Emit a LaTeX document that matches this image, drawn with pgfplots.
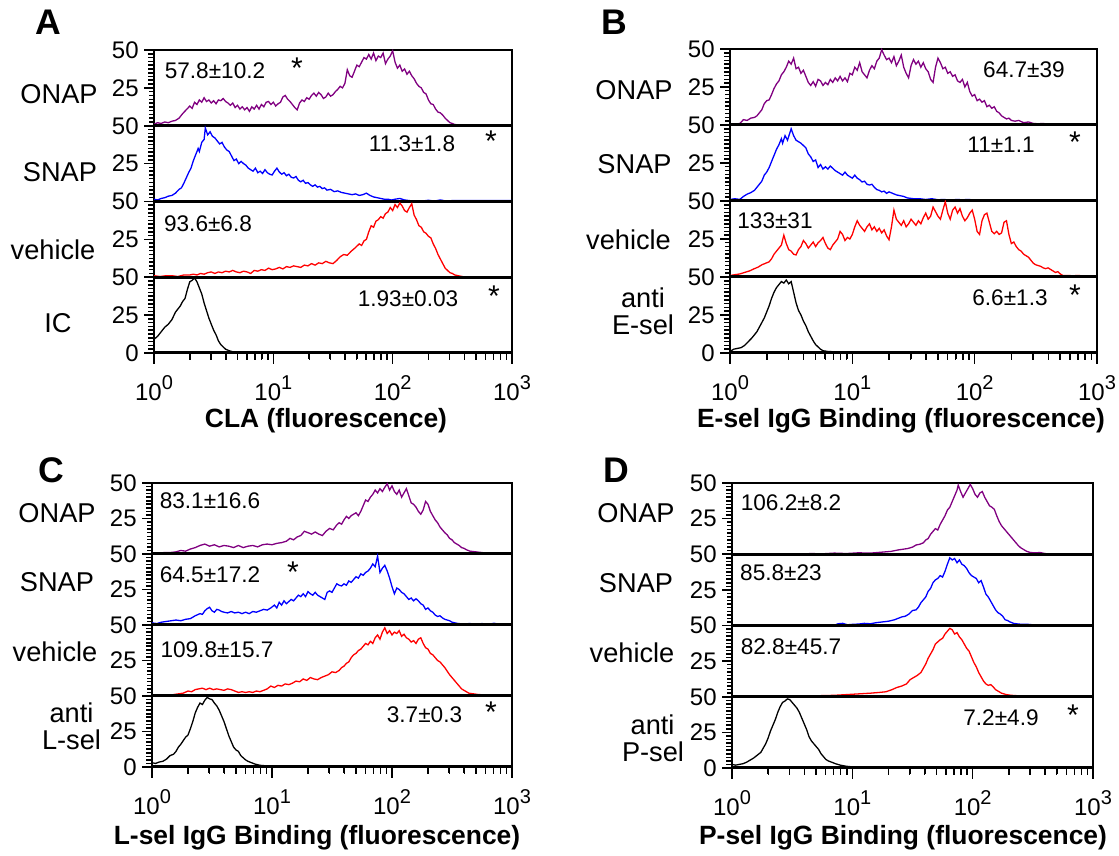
\documentclass[border=0pt]{standalone}
\usepackage{pgfplots}
\pgfplotsset{compat=1.18}
\usepackage{fontspec}
\setmainfont{Liberation Sans}
\definecolor{cpur}{RGB}{128,0,128}
\definecolor{cblu}{RGB}{0,0,255}
\definecolor{cred}{RGB}{255,0,0}
\newcommand{\fRow}{\fontsize{13.6}{14}\selectfont}
\newcommand{\fAnn}{\fontsize{11.3}{12}\selectfont}
\newcommand{\fStar}{\fontsize{15}{15}\selectfont}
\newcommand{\fTitle}{\fontsize{13.2}{14}\selectfont\bfseries}
\newcommand{\fPanel}{\fontsize{17.8}{18}\selectfont\bfseries}
\newcommand{\sx}[1]{\raisebox{5.5pt}{\fontsize{10}{10}\selectfont #1}}
% frame decorations: thick lower edge and outward tick combs
\newcommand{\yticksdraw}{%
 \draw[line width=1.5pt] (rel axis cs:0,0)--(rel axis cs:1,0);
 \foreach \v in {0,0.05,0.1,0.15,0.2,0.25,0.3,0.35,0.4,0.45,0.5,0.55,0.6,0.65,0.7,0.75,0.8,0.85,0.9,0.95,1}{\draw[line width=0.7pt] (rel axis cs:0,\v) -- ++(-2.6pt,0);}
 \foreach \v in {0,0.5,1}{\draw[line width=0.75pt] (rel axis cs:0,\v) -- ++(-4.6pt,0);}}
\newcommand{\xticksdraw}{%
 \foreach \r in {0.1003,0.1590,0.2007,0.2330,0.2594,0.2817,0.3010,0.3181,0.4337,0.4924,0.5340,0.5663,0.5927,0.6150,0.6344,0.6514,0.7670,0.8257,0.8674,0.8996,0.9260,0.9484,0.9677,0.9847}{\draw[line width=0.7pt] (rel axis cs:\r,0) -- ++(0,-3.6pt);}
 \foreach \r in {0,0.33333,0.66667,1}{\draw[line width=0.75pt] (rel axis cs:\r,0) -- ++(0,-5.5pt);}}

\begin{document}
\begin{tikzpicture}
\useasboundingbox (0,0) rectangle (559.5pt,428pt);

% ================= Panel A =================
\begin{axis}[at={(77pt,365.125pt)}, anchor=south west, width=179pt, height=37.875pt,
 scale only axis, xmode=log, xmin=1, xmax=1000, ymin=0, ymax=50,
 axis line style={line width=0.75pt}, tick align=outside, ytick pos=left, xtick pos=left,
 major tick length=5pt, minor tick length=2.8pt, minor y tick num=9,
 every tick/.style={black, line width=0.8pt},
 yticklabel style={font=\fontsize{12}{12}\selectfont, inner sep=0pt, xshift=-2.5pt},
 after end axis/.code={\yticksdraw},
 ytick={25,50}, yticklabels={25,50}, xtick=\empty]
\addplot[cpur, line width=0.65pt] table[row sep=\\, x expr={10^(\thisrow{a})}, y=b]{a b\\0 1\\0.03 2\\0.06 1.5\\0.09 2.5\\0.12 2\\0.15 3\\0.18 3.5\\0.21 5\\0.24 8\\0.27 10.5\\0.3 13\\0.32 11.5\\0.34 15.5\\0.36 14\\0.38 17\\0.4 15.5\\0.42 18.5\\0.44 16\\0.46 17\\0.48 15\\0.5 16.5\\0.52 14.5\\0.54 17\\0.56 16.5\\0.58 18\\0.6 16\\0.62 15\\0.64 13.5\\0.66 15\\0.68 12\\0.7 13.5\\0.72 11\\0.74 12.5\\0.76 10.5\\0.78 12\\0.8 9.5\\0.82 12.5\\0.84 11\\0.86 13.5\\0.88 11\\0.9 14\\0.92 12.5\\0.94 15.5\\0.96 16\\0.98 14\\1.0 15.5\\1.02 13\\1.04 14.5\\1.06 15.5\\1.08 19\\1.1 20\\1.12 17.5\\1.14 16\\1.16 14\\1.18 12\\1.2 10.5\\1.22 15\\1.24 17\\1.26 16\\1.28 18.5\\1.3 17.5\\1.32 20\\1.34 21.5\\1.36 19.5\\1.38 22\\1.4 20.5\\1.42 18\\1.44 19\\1.46 21.5\\1.48 19.5\\1.5 20.5\\1.52 22.5\\1.54 24\\1.56 26\\1.58 25\\1.6 28\\1.62 37\\1.64 33\\1.66 32\\1.68 36\\1.7 40\\1.72 39\\1.74 42\\1.76 45\\1.78 44\\1.8 47\\1.82 44\\1.84 48\\1.86 43\\1.88 46\\1.9 45\\1.92 48\\1.94 41\\1.96 44\\1.98 46\\2.0 49.5\\2.02 42\\2.04 38\\2.06 40\\2.08 36\\2.1 37.5\\2.12 34\\2.14 36\\2.16 33\\2.18 31\\2.2 28\\2.22 26\\2.24 25\\2.26 22\\2.28 21\\2.3 17\\2.32 14.5\\2.34 14\\2.36 11\\2.38 9\\2.4 8.5\\2.42 7\\2.44 5\\2.46 3.5\\2.48 2\\2.5 1.5\\2.52 0.8\\2.56 0.5\\2.6 0.3\\2.64 0\\};
\end{axis}
\begin{axis}[at={(77pt,327.25pt)}, anchor=south west, width=179pt, height=37.875pt,
 scale only axis, xmode=log, xmin=1, xmax=1000, ymin=0, ymax=50,
 axis line style={line width=0.75pt}, tick align=outside, ytick pos=left, xtick pos=left,
 major tick length=5pt, minor tick length=2.8pt, minor y tick num=9,
 every tick/.style={black, line width=0.8pt},
 yticklabel style={font=\fontsize{12}{12}\selectfont, inner sep=0pt, xshift=-2.5pt},
 after end axis/.code={\yticksdraw},
 ytick={25,50}, yticklabels={25,50}, xtick=\empty]
\addplot[cblu, line width=0.65pt] table[row sep=\\, x expr={10^(\thisrow{a})}, y=b]{a b\\0 1.5\\0.03 1\\0.06 2\\0.09 2.5\\0.12 3.5\\0.15 4\\0.18 5.5\\0.21 8\\0.23 9\\0.25 12\\0.27 15.5\\0.29 19\\0.31 22\\0.33 27\\0.35 31\\0.37 35\\0.38 33\\0.4 39\\0.42 41\\0.43 48.5\\0.45 44\\0.47 46\\0.49 43\\0.51 42\\0.53 40\\0.55 38\\0.57 39\\0.59 36\\0.61 34\\0.63 33\\0.65 30\\0.67 27\\0.69 28\\0.71 25\\0.73 26.5\\0.75 25\\0.77 24\\0.79 22\\0.81 21\\0.83 20\\0.85 22\\0.87 19\\0.89 20\\0.91 18.5\\0.93 21\\0.95 19\\0.97 18\\0.99 17.5\\1.01 20\\1.03 22\\1.05 19.5\\1.07 18\\1.09 19\\1.11 17\\1.13 18\\1.15 16\\1.17 15.5\\1.19 16.5\\1.21 14\\1.23 13\\1.25 14\\1.27 12\\1.29 12.5\\1.31 11\\1.33 10\\1.35 11\\1.37 9.5\\1.39 10\\1.41 8.5\\1.43 9\\1.45 7.5\\1.48 8\\1.51 6.5\\1.54 7\\1.57 6\\1.6 5.5\\1.63 5\\1.66 4.5\\1.69 5\\1.72 4\\1.75 4.5\\1.78 5.5\\1.81 4\\1.84 3\\1.87 2.5\\1.9 2\\1.93 1.5\\1.96 1.5\\1.99 1\\2.02 1.5\\2.06 2\\2.1 1\\2.15 0.5\\2.2 0.5\\2.25 0.3\\2.3 0.8\\2.35 0.3\\2.4 1\\2.45 0.3\\2.5 0.6\\3 0.6\\};
\end{axis}
\begin{axis}[at={(77pt,289.375pt)}, anchor=south west, width=179pt, height=37.875pt,
 scale only axis, xmode=log, xmin=1, xmax=1000, ymin=0, ymax=50,
 axis line style={line width=0.75pt}, tick align=outside, ytick pos=left, xtick pos=left,
 major tick length=5pt, minor tick length=2.8pt, minor y tick num=9,
 every tick/.style={black, line width=0.8pt},
 yticklabel style={font=\fontsize{12}{12}\selectfont, inner sep=0pt, xshift=-2.5pt},
 after end axis/.code={\yticksdraw},
 ytick={25,50}, yticklabels={25,50}, xtick=\empty]
\addplot[cred, line width=0.65pt] table[row sep=\\, x expr={10^(\thisrow{a})}, y=b]{a b\\0 1\\0.05 0.5\\0.1 1\\0.15 1\\0.2 0.5\\0.25 1.5\\0.3 1.5\\0.33 2\\0.36 1.5\\0.39 2.5\\0.42 2\\0.45 3\\0.48 3.5\\0.51 2.5\\0.54 3.5\\0.57 3\\0.6 4\\0.63 3.5\\0.66 4.5\\0.69 3.5\\0.72 3\\0.75 4\\0.78 3.5\\0.81 2.5\\0.84 4.5\\0.87 4\\0.9 5\\0.93 4.5\\0.96 6\\0.99 5\\1.02 5.5\\1.05 6.5\\1.08 5.5\\1.11 7\\1.14 6.5\\1.17 7.5\\1.2 7\\1.23 6.5\\1.26 8\\1.29 7.5\\1.32 9\\1.35 8\\1.38 9.5\\1.41 9\\1.44 10.5\\1.47 9.5\\1.5 9\\1.53 11\\1.56 13.5\\1.59 15\\1.62 14.5\\1.65 17\\1.68 19\\1.7 20.5\\1.72 22\\1.74 21\\1.76 24\\1.78 25\\1.8 30\\1.82 34\\1.84 33\\1.86 37\\1.88 38\\1.9 40\\1.92 39\\1.94 42\\1.96 43\\1.98 46\\2.0 44\\2.02 48\\2.04 46\\2.06 49\\2.08 47\\2.1 44\\2.12 43\\2.14 46\\2.16 48.5\\2.18 41\\2.2 38\\2.22 34\\2.24 33\\2.26 30\\2.28 29\\2.3 27\\2.32 26\\2.34 22\\2.36 19\\2.38 15\\2.4 12\\2.42 9\\2.44 6\\2.46 4.5\\2.48 3\\2.5 2.5\\2.52 1.5\\2.55 1\\2.58 0.5\\2.62 0\\};
\end{axis}
\begin{axis}[at={(77pt,251.5pt)}, anchor=south west, width=179pt, height=37.875pt,
 scale only axis, xmode=log, xmin=1, xmax=1000, ymin=0, ymax=50,
 axis line style={line width=0.75pt}, tick align=outside, ytick pos=left, xtick pos=left,
 major tick length=5pt, minor tick length=2.8pt, minor y tick num=9,
 every tick/.style={black, line width=0.8pt},
 yticklabel style={font=\fontsize{12}{12}\selectfont, inner sep=0pt, xshift=-2.5pt},
 after end axis/.code={\yticksdraw\xticksdraw},
 ytick={0,25,50}, yticklabels={0,25,50}, xtick={1,10,100,1000},
 minor xtick={2,3,4,5,6,7,8,9,20,30,40,50,60,70,80,90,200,300,400,500,600,700,800,900},
 xticklabels={10\sx{0},10\sx{1},10\sx{2},10\sx{3}},
 xticklabel style={font=\fontsize{12}{12}\selectfont, inner sep=0pt, yshift=-6pt}]
\addplot[black, line width=0.65pt] table[row sep=\\, x expr={10^(\thisrow{a})}, y=b]{a b\\0 9\\0.03 11\\0.06 14\\0.09 17\\0.12 19\\0.15 22\\0.18 27\\0.2 29\\0.22 31\\0.24 34\\0.26 36\\0.28 42\\0.3 47\\0.32 48\\0.34 49.5\\0.36 47\\0.38 43\\0.4 39\\0.42 33\\0.44 28\\0.46 23\\0.48 19\\0.5 15\\0.52 12\\0.54 8\\0.56 5.5\\0.58 4\\0.6 2.5\\0.63 1.5\\0.66 0.8\\0.7 0.3\\0.75 0.2\\0.8 0\\};
\end{axis}

% ================= Panel B =================
\begin{axis}[at={(365pt,365.5pt)}, anchor=south west, width=183.5pt, height=38pt,
 scale only axis, xmode=log, xmin=1, xmax=1000, ymin=0, ymax=50,
 axis line style={line width=0.75pt}, tick align=outside, ytick pos=left, xtick pos=left,
 major tick length=5pt, minor tick length=2.8pt, minor y tick num=9,
 every tick/.style={black, line width=0.8pt},
 yticklabel style={font=\fontsize{12}{12}\selectfont, inner sep=0pt, xshift=-2.5pt},
 after end axis/.code={\yticksdraw},
 ytick={25,50}, yticklabels={25,50}, xtick=\empty]
\addplot[cpur, line width=0.65pt] table[row sep=\\, x expr={10^(\thisrow{a})}, y=b]{a b\\0 0.5\\0.04 0.5\\0.08 1\\0.11 3.5\\0.14 3\\0.17 4.5\\0.2 5\\0.22 6\\0.24 8\\0.26 10\\0.28 14\\0.3 16\\0.32 16.5\\0.34 20\\0.36 24\\0.38 27\\0.4 29\\0.42 33\\0.44 35\\0.46 38\\0.48 42\\0.5 40\\0.52 44\\0.54 37\\0.56 38\\0.58 34\\0.6 36\\0.62 32\\0.64 28\\0.66 26\\0.68 28.5\\0.7 25.5\\0.72 30\\0.74 29\\0.76 26\\0.78 28\\0.8 26.5\\0.82 30\\0.84 28\\0.86 31\\0.88 29\\0.9 32\\0.92 29\\0.94 31\\0.96 28.5\\0.98 34\\1.0 33\\1.02 38\\1.04 36\\1.06 41\\1.08 35\\1.1 33\\1.12 31\\1.14 36\\1.16 39\\1.18 37\\1.2 42\\1.22 44\\1.24 49.5\\1.26 46\\1.28 43\\1.3 44\\1.32 41\\1.34 45\\1.36 39\\1.38 42\\1.4 46\\1.42 38\\1.44 34\\1.46 31\\1.48 39\\1.5 43\\1.52 40\\1.54 42\\1.56 38\\1.58 41\\1.6 37\\1.62 35\\1.64 30\\1.66 28\\1.68 38\\1.7 44\\1.72 41\\1.74 37\\1.76 38\\1.78 34\\1.8 35\\1.82 32\\1.84 33\\1.86 29\\1.88 28\\1.9 30\\1.92 25\\1.94 28\\1.96 22\\1.98 19\\2.0 20\\2.02 16\\2.04 17\\2.06 15\\2.08 16\\2.1 12\\2.12 13\\2.14 11\\2.16 12\\2.18 9\\2.2 8\\2.22 6\\2.24 5\\2.26 4\\2.28 4.5\\2.3 3\\2.33 2.5\\2.36 3\\2.4 1.5\\2.44 2\\2.48 1\\2.52 0.8\\2.56 1\\2.6 0.5\\2.65 0.3\\2.7 0.3\\2.75 0.5\\2.8 0\\};
\end{axis}
\begin{axis}[at={(365pt,327.5pt)}, anchor=south west, width=183.5pt, height=38pt,
 scale only axis, xmode=log, xmin=1, xmax=1000, ymin=0, ymax=50,
 axis line style={line width=0.75pt}, tick align=outside, ytick pos=left, xtick pos=left,
 major tick length=5pt, minor tick length=2.8pt, minor y tick num=9,
 every tick/.style={black, line width=0.8pt},
 yticklabel style={font=\fontsize{12}{12}\selectfont, inner sep=0pt, xshift=-2.5pt},
 after end axis/.code={\yticksdraw},
 ytick={25,50}, yticklabels={25,50}, xtick=\empty]
\addplot[cblu, line width=0.65pt] table[row sep=\\, x expr={10^(\thisrow{a})}, y=b]{a b\\0 1\\0.04 1.5\\0.08 1\\0.11 3\\0.14 4.5\\0.17 5.5\\0.2 7\\0.22 9\\0.24 11\\0.26 13\\0.28 17\\0.3 19\\0.32 22\\0.34 26\\0.36 30\\0.38 34\\0.4 37\\0.42 41\\0.43 38\\0.45 43\\0.47 40\\0.49 45\\0.5 47.5\\0.52 43\\0.54 40\\0.56 39\\0.58 38\\0.6 36.5\\0.62 35\\0.64 31\\0.66 29\\0.68 26\\0.7 27\\0.72 22\\0.74 24\\0.76 21\\0.78 22.5\\0.8 21\\0.82 23\\0.84 21.5\\0.86 20\\0.88 19\\0.9 18\\0.92 17\\0.94 19\\0.96 17\\0.98 16\\1.0 15\\1.02 17\\1.04 15\\1.06 14\\1.08 12.5\\1.1 13\\1.12 11\\1.14 10.5\\1.16 11\\1.18 9\\1.2 7.5\\1.22 7\\1.24 6\\1.26 6.5\\1.28 5\\1.3 6\\1.33 5\\1.36 4\\1.39 3.5\\1.42 3\\1.45 2\\1.5 1.5\\1.55 1.5\\1.6 1\\1.65 1.5\\1.7 0.8\\1.75 1\\1.8 0.5\\1.85 1\\1.9 0.8\\1.95 1\\2.0 0.6\\3 0.6\\};
\end{axis}
\begin{axis}[at={(365pt,289.5pt)}, anchor=south west, width=183.5pt, height=38pt,
 scale only axis, xmode=log, xmin=1, xmax=1000, ymin=0, ymax=50,
 axis line style={line width=0.75pt}, tick align=outside, ytick pos=left, xtick pos=left,
 major tick length=5pt, minor tick length=2.8pt, minor y tick num=9,
 every tick/.style={black, line width=0.8pt},
 yticklabel style={font=\fontsize{12}{12}\selectfont, inner sep=0pt, xshift=-2.5pt},
 after end axis/.code={\yticksdraw},
 ytick={25,50}, yticklabels={25,50}, xtick=\empty]
\addplot[cred, line width=0.65pt] table[row sep=\\, x expr={10^(\thisrow{a})}, y=b]{a b\\0 1\\0.04 1.5\\0.08 2\\0.12 3\\0.16 4\\0.2 5.5\\0.23 6.5\\0.26 8\\0.29 9\\0.32 10\\0.34 12\\0.36 15\\0.38 17\\0.4 19\\0.42 21\\0.44 27.5\\0.46 22\\0.48 18\\0.5 17\\0.52 15\\0.54 14.5\\0.56 18\\0.58 20\\0.6 24\\0.62 22\\0.64 19\\0.66 21\\0.68 23\\0.7 20\\0.72 22.5\\0.74 24\\0.76 26\\0.78 22\\0.8 19\\0.82 18\\0.84 21\\0.86 23\\0.88 25\\0.9 30\\0.92 28\\0.94 24\\0.96 26\\0.98 25\\1.0 28\\1.02 33\\1.04 37\\1.06 34\\1.08 32\\1.1 30\\1.12 33\\1.14 35\\1.16 31\\1.18 33\\1.2 30\\1.22 32\\1.24 29\\1.26 31\\1.28 27\\1.3 24.5\\1.32 33\\1.34 44\\1.36 38\\1.38 36\\1.4 34\\1.42 37\\1.44 33\\1.46 35\\1.48 38\\1.5 36\\1.52 34\\1.54 37\\1.56 35\\1.58 39\\1.6 42\\1.62 38\\1.64 40\\1.66 46\\1.68 43\\1.7 40\\1.72 38\\1.74 44\\1.76 49.5\\1.78 42\\1.8 38\\1.82 44\\1.84 46\\1.86 42\\1.88 45\\1.9 40\\1.92 37\\1.94 39\\1.96 42\\1.98 44\\2.0 38\\2.02 30\\2.04 28\\2.06 37\\2.08 41\\2.1 42\\2.12 36\\2.14 30\\2.16 28.5\\2.18 30\\2.2 28\\2.22 29\\2.24 36\\2.26 37\\2.28 28\\2.3 22\\2.32 23\\2.34 20\\2.36 18\\2.38 17\\2.4 15\\2.42 14\\2.44 13\\2.46 11\\2.48 9\\2.5 8\\2.52 7.5\\2.54 7\\2.56 6\\2.58 5.5\\2.6 6\\2.62 5\\2.64 4\\2.66 3\\2.68 3.5\\2.7 2\\2.72 1\\2.76 1\\2.8 0.8\\2.85 1\\2.9 0.5\\2.95 0\\};
\end{axis}
\begin{axis}[at={(365pt,251.5pt)}, anchor=south west, width=183.5pt, height=38pt,
 scale only axis, xmode=log, xmin=1, xmax=1000, ymin=0, ymax=50,
 axis line style={line width=0.75pt}, tick align=outside, ytick pos=left, xtick pos=left,
 major tick length=5pt, minor tick length=2.8pt, minor y tick num=9,
 every tick/.style={black, line width=0.8pt},
 yticklabel style={font=\fontsize{12}{12}\selectfont, inner sep=0pt, xshift=-2.5pt},
 after end axis/.code={\yticksdraw\xticksdraw},
 ytick={0,25,50}, yticklabels={0,25,50}, xtick={1,10,100,1000},
 minor xtick={2,3,4,5,6,7,8,9,20,30,40,50,60,70,80,90,200,300,400,500,600,700,800,900},
 xticklabels={10\sx{0},10\sx{1},10\sx{2},10\sx{3}},
 xticklabel style={font=\fontsize{12}{12}\selectfont, inner sep=0pt, yshift=-6pt}]
\addplot[black, line width=0.65pt] table[row sep=\\, x expr={10^(\thisrow{a})}, y=b]{a b\\0 1\\0.03 2.5\\0.06 3\\0.09 3.5\\0.12 5\\0.15 7.5\\0.18 10\\0.2 12\\0.22 14\\0.24 17\\0.26 20\\0.28 23\\0.3 27\\0.32 31\\0.34 36\\0.36 40\\0.38 43\\0.4 45\\0.42 47\\0.44 46\\0.46 48\\0.48 45.5\\0.5 47\\0.52 40\\0.54 33\\0.56 28\\0.58 25\\0.6 21\\0.62 18\\0.64 14\\0.66 11\\0.68 8\\0.7 5.5\\0.72 4\\0.74 2.5\\0.76 1.5\\0.8 1\\0.85 0.8\\0.9 0.5\\0.95 0.8\\1.0 0.3\\1.05 0.3\\1.1 0\\};
\end{axis}

% ================= Panel C =================
\begin{axis}[at={(76pt,151pt)}, anchor=south west, width=180pt, height=35.5pt,
 scale only axis, xmode=log, xmin=1, xmax=1000, ymin=0, ymax=50,
 axis line style={line width=0.75pt}, tick align=outside, ytick pos=left, xtick pos=left,
 major tick length=5pt, minor tick length=2.8pt, minor y tick num=9,
 every tick/.style={black, line width=0.8pt},
 yticklabel style={font=\fontsize{12}{12}\selectfont, inner sep=0pt, xshift=-2.5pt},
 after end axis/.code={\yticksdraw},
 ytick={25,50}, yticklabels={25,50}, xtick=\empty]
\addplot[cpur, line width=0.65pt] table[row sep=\\, x expr={10^(\thisrow{a})}, y=b]{a b\\0 1\\0.05 0.5\\0.1 1\\0.15 1\\0.2 1.5\\0.24 2.5\\0.28 2\\0.32 3.5\\0.36 4.5\\0.4 6\\0.44 7\\0.48 5.5\\0.52 6.5\\0.56 5\\0.6 6\\0.64 5.5\\0.68 4.5\\0.72 6\\0.76 4.5\\0.8 5.5\\0.84 6\\0.88 5\\0.92 6.5\\0.96 7\\1.0 6.5\\1.04 7.5\\1.08 8\\1.12 9\\1.15 11\\1.18 10\\1.21 12\\1.24 13\\1.27 16\\1.3 15\\1.33 14\\1.36 15.5\\1.39 14\\1.42 13\\1.45 16\\1.48 18\\1.51 17\\1.54 20.5\\1.56 22\\1.58 21\\1.6 24\\1.62 26.5\\1.64 25\\1.66 27\\1.68 28\\1.7 29\\1.72 27\\1.74 30\\1.76 34\\1.78 38\\1.8 37\\1.82 40\\1.84 42\\1.86 45\\1.88 43\\1.9 46\\1.92 44\\1.94 47\\1.96 49.5\\1.98 45\\2.0 48\\2.02 44\\2.04 42\\2.06 45\\2.08 40\\2.1 43\\2.12 46\\2.14 41\\2.16 36\\2.18 35\\2.2 33\\2.22 30\\2.24 28\\2.26 31\\2.28 37\\2.3 35\\2.32 30\\2.34 27\\2.36 24\\2.38 22\\2.4 19\\2.42 17\\2.44 15\\2.46 13.5\\2.48 11\\2.5 10\\2.52 8\\2.54 7\\2.56 6\\2.58 4.5\\2.6 4\\2.62 3\\2.65 2\\2.7 1.5\\2.75 1\\2.8 0.5\\2.85 0.3\\2.9 0\\};
\end{axis}
\begin{axis}[at={(76pt,115.5pt)}, anchor=south west, width=180pt, height=35.5pt,
 scale only axis, xmode=log, xmin=1, xmax=1000, ymin=0, ymax=50,
 axis line style={line width=0.75pt}, tick align=outside, ytick pos=left, xtick pos=left,
 major tick length=5pt, minor tick length=2.8pt, minor y tick num=9,
 every tick/.style={black, line width=0.8pt},
 yticklabel style={font=\fontsize{12}{12}\selectfont, inner sep=0pt, xshift=-2.5pt},
 after end axis/.code={\yticksdraw},
 ytick={25,50}, yticklabels={25,50}, xtick=\empty]
\addplot[cblu, line width=0.65pt] table[row sep=\\, x expr={10^(\thisrow{a})}, y=b]{a b\\0 1.5\\0.04 1\\0.08 2\\0.12 2.5\\0.16 3\\0.2 3.5\\0.24 3\\0.28 4\\0.32 4.5\\0.36 6.5\\0.4 8\\0.42 7.5\\0.44 10\\0.46 11.5\\0.48 12.5\\0.5 10\\0.52 9\\0.54 11\\0.56 10.5\\0.58 9.5\\0.6 9\\0.63 8.5\\0.66 9.5\\0.69 8.5\\0.72 9\\0.75 8\\0.78 9\\0.81 8\\0.84 9.5\\0.87 9\\0.9 10\\0.93 11\\0.96 10.5\\0.99 12\\1.02 14\\1.04 12\\1.06 16\\1.08 14\\1.1 17\\1.12 15\\1.14 16.5\\1.16 18\\1.18 17\\1.2 19\\1.22 21\\1.24 20\\1.26 22\\1.28 20\\1.3 23.5\\1.32 22\\1.34 21\\1.36 23\\1.38 21\\1.4 20\\1.42 19\\1.44 18\\1.46 23\\1.48 24\\1.5 23\\1.52 26\\1.54 29\\1.56 28\\1.58 27.5\\1.6 29\\1.62 28\\1.64 31\\1.66 30\\1.68 32\\1.7 34\\1.72 33\\1.74 36\\1.76 35\\1.78 37\\1.8 38\\1.82 40\\1.84 43\\1.86 41\\1.88 48.5\\1.9 37\\1.92 40\\1.94 42\\1.96 38\\1.98 33\\2.0 27\\2.02 22\\2.04 26\\2.06 25\\2.08 23\\2.1 22\\2.12 20\\2.14 18\\2.16 19\\2.18 17\\2.2 18.5\\2.22 17\\2.24 15\\2.26 14\\2.28 11\\2.3 12\\2.32 10\\2.34 9\\2.36 7\\2.38 6\\2.4 6.5\\2.42 5\\2.44 4\\2.46 3.5\\2.48 3\\2.5 2\\2.55 1\\2.6 0.8\\2.65 1\\2.7 0.5\\2.75 1\\2.8 0.5\\2.85 1.2\\2.9 0.5\\2.95 0.5\\3 0.5\\};
\end{axis}
\begin{axis}[at={(76pt,80pt)}, anchor=south west, width=180pt, height=35.5pt,
 scale only axis, xmode=log, xmin=1, xmax=1000, ymin=0, ymax=50,
 axis line style={line width=0.75pt}, tick align=outside, ytick pos=left, xtick pos=left,
 major tick length=5pt, minor tick length=2.8pt, minor y tick num=9,
 every tick/.style={black, line width=0.8pt},
 yticklabel style={font=\fontsize{12}{12}\selectfont, inner sep=0pt, xshift=-2.5pt},
 after end axis/.code={\yticksdraw},
 ytick={25,50}, yticklabels={25,50}, xtick=\empty]
\addplot[cred, line width=0.65pt] table[row sep=\\, x expr={10^(\thisrow{a})}, y=b]{a b\\0.15 0\\0.18 1\\0.22 1.5\\0.26 2\\0.3 3.5\\0.33 3\\0.36 4.5\\0.39 5\\0.42 5.5\\0.45 4.5\\0.48 5.5\\0.51 4.5\\0.54 5\\0.57 4.5\\0.6 4\\0.63 5\\0.66 4.5\\0.69 3.5\\0.72 2.5\\0.75 3\\0.78 2.5\\0.81 3\\0.84 2.5\\0.87 3.5\\0.9 3\\0.93 4\\0.96 5\\0.99 7\\1.02 6\\1.05 7.5\\1.08 7\\1.11 8.5\\1.14 8\\1.17 9\\1.2 10.5\\1.23 10\\1.26 12\\1.29 11\\1.32 13\\1.35 12\\1.38 11.5\\1.41 13\\1.44 14\\1.47 15\\1.5 17\\1.53 16.5\\1.56 18\\1.58 20\\1.6 21\\1.62 23\\1.64 24\\1.66 27\\1.68 29\\1.7 30\\1.72 32\\1.74 33\\1.76 35\\1.78 37\\1.8 36\\1.82 38.5\\1.84 37\\1.86 41\\1.88 43\\1.9 40\\1.92 45\\1.94 48\\1.96 44\\1.98 46\\2.0 43\\2.02 45\\2.04 44\\2.06 46\\2.08 42\\2.1 43.5\\2.12 41\\2.14 40\\2.16 38\\2.18 39\\2.2 37\\2.22 40\\2.24 41\\2.26 37\\2.28 34\\2.3 33\\2.32 30\\2.34 29\\2.36 27\\2.38 25\\2.4 24\\2.42 22\\2.44 20\\2.46 17.5\\2.48 15\\2.5 13\\2.52 11\\2.54 9\\2.56 7\\2.58 5\\2.6 4\\2.62 3\\2.64 2\\2.68 1.5\\2.72 1\\2.78 0.8\\2.84 0.5\\2.88 0\\};
\end{axis}
\begin{axis}[at={(76pt,44.5pt)}, anchor=south west, width=180pt, height=35.5pt,
 scale only axis, xmode=log, xmin=1, xmax=1000, ymin=0, ymax=50,
 axis line style={line width=0.75pt}, tick align=outside, ytick pos=left, xtick pos=left,
 major tick length=5pt, minor tick length=2.8pt, minor y tick num=9,
 every tick/.style={black, line width=0.8pt},
 yticklabel style={font=\fontsize{12}{12}\selectfont, inner sep=0pt, xshift=-2.5pt},
 after end axis/.code={\yticksdraw\xticksdraw},
 ytick={0,25,50}, yticklabels={0,25,50}, xtick={1,10,100,1000},
 minor xtick={2,3,4,5,6,7,8,9,20,30,40,50,60,70,80,90,200,300,400,500,600,700,800,900},
 xticklabels={10\sx{0},10\sx{1},10\sx{2},10\sx{3}},
 xticklabel style={font=\fontsize{12}{12}\selectfont, inner sep=0pt, yshift=-6pt}]
\addplot[black, line width=0.65pt] table[row sep=\\, x expr={10^(\thisrow{a})}, y=b]{a b\\0 3\\0.03 2.5\\0.06 3.5\\0.09 4\\0.12 5.5\\0.15 8\\0.18 9\\0.2 11\\0.22 14\\0.24 16\\0.26 18.5\\0.28 21\\0.3 22.5\\0.32 27\\0.34 32\\0.36 38\\0.38 42\\0.4 45\\0.42 44\\0.44 47\\0.46 49\\0.48 48\\0.5 47.5\\0.52 45\\0.54 43\\0.56 40\\0.58 36\\0.6 32\\0.62 27\\0.64 22\\0.66 18\\0.68 14\\0.7 12\\0.72 11\\0.74 8\\0.76 6.5\\0.78 5\\0.8 4\\0.83 3\\0.86 2\\0.9 1.2\\0.95 0.8\\1.0 0.5\\1.1 0.3\\1.2 0\\1.5 0.3\\1.6 0\\2.0 0.3\\2.1 0\\};
\end{axis}

% ================= Panel D =================
\begin{axis}[at={(366pt,150.875pt)}, anchor=south west, width=180.5pt, height=35.625pt,
 scale only axis, xmode=log, xmin=1, xmax=1000, ymin=0, ymax=50,
 axis line style={line width=0.75pt}, tick align=outside, ytick pos=left, xtick pos=left,
 major tick length=5pt, minor tick length=2.8pt, minor y tick num=9,
 every tick/.style={black, line width=0.8pt},
 yticklabel style={font=\fontsize{12}{12}\selectfont, inner sep=0pt, xshift=-2.5pt},
 after end axis/.code={\yticksdraw},
 ytick={25,50}, yticklabels={25,50}, xtick=\empty]
\addplot[cpur, line width=0.65pt] table[row sep=\\, x expr={10^(\thisrow{a})}, y=b]{a b\\0.6 0\\0.65 0.5\\0.75 0.3\\0.85 0.8\\0.95 0.5\\1.05 1\\1.15 0.8\\1.25 1.5\\1.32 2\\1.38 3\\1.42 3.5\\1.46 4\\1.5 5\\1.53 6.5\\1.56 7\\1.59 8\\1.61 10\\1.63 11\\1.65 14\\1.67 16\\1.69 18\\1.71 17\\1.73 21\\1.75 24\\1.77 27\\1.79 31\\1.81 33\\1.83 37\\1.85 41\\1.87 45\\1.88 48.5\\1.9 44\\1.92 40\\1.94 43\\1.96 46\\1.98 49\\2.0 46\\2.02 42\\2.04 40\\2.06 43\\2.08 44\\2.1 40\\2.12 37\\2.14 34\\2.16 33\\2.18 31.5\\2.2 27\\2.22 23\\2.24 20\\2.26 18\\2.28 16\\2.3 14\\2.32 12\\2.34 10\\2.36 8\\2.38 6\\2.4 4.5\\2.42 3.5\\2.45 2\\2.48 1.2\\2.52 1\\2.56 1.2\\2.6 0.5\\2.65 0\\};
\end{axis}
\begin{axis}[at={(366pt,115.25pt)}, anchor=south west, width=180.5pt, height=35.625pt,
 scale only axis, xmode=log, xmin=1, xmax=1000, ymin=0, ymax=50,
 axis line style={line width=0.75pt}, tick align=outside, ytick pos=left, xtick pos=left,
 major tick length=5pt, minor tick length=2.8pt, minor y tick num=9,
 every tick/.style={black, line width=0.8pt},
 yticklabel style={font=\fontsize{12}{12}\selectfont, inner sep=0pt, xshift=-2.5pt},
 after end axis/.code={\yticksdraw},
 ytick={25,50}, yticklabels={25,50}, xtick=\empty]
\addplot[cblu, line width=0.65pt] table[row sep=\\, x expr={10^(\thisrow{a})}, y=b]{a b\\0.85 0\\0.88 1.2\\0.92 1.5\\0.96 0.5\\1.0 0.8\\1.05 1\\1.1 1.5\\1.15 1.2\\1.2 2\\1.25 2.5\\1.3 3\\1.35 4\\1.38 5\\1.41 6\\1.44 6.5\\1.47 8\\1.5 10.5\\1.53 11\\1.55 13\\1.57 16\\1.59 18\\1.61 20\\1.63 24\\1.65 26\\1.67 30\\1.69 32\\1.71 33\\1.73 35\\1.75 34\\1.77 38\\1.79 43\\1.81 47.5\\1.83 46\\1.85 47\\1.87 44\\1.89 46\\1.91 43\\1.93 42\\1.95 40\\1.97 37\\1.99 35\\2.01 34\\2.03 33\\2.05 30\\2.07 31.5\\2.09 27\\2.11 22\\2.13 20\\2.15 17\\2.17 14\\2.19 11\\2.21 9\\2.23 8\\2.25 6.5\\2.27 4\\2.29 3.5\\2.31 2.5\\2.34 1.5\\2.38 1\\2.42 0.8\\2.46 0.8\\2.5 0.5\\2.55 0\\};
\end{axis}
\begin{axis}[at={(366pt,79.625pt)}, anchor=south west, width=180.5pt, height=35.625pt,
 scale only axis, xmode=log, xmin=1, xmax=1000, ymin=0, ymax=50,
 axis line style={line width=0.75pt}, tick align=outside, ytick pos=left, xtick pos=left,
 major tick length=5pt, minor tick length=2.8pt, minor y tick num=9,
 every tick/.style={black, line width=0.8pt},
 yticklabel style={font=\fontsize{12}{12}\selectfont, inner sep=0pt, xshift=-2.5pt},
 after end axis/.code={\yticksdraw},
 ytick={25,50}, yticklabels={25,50}, xtick=\empty]
\addplot[cred, line width=0.65pt] table[row sep=\\, x expr={10^(\thisrow{a})}, y=b]{a b\\0.5 0\\0.55 0.7\\0.65 0.5\\0.75 0.8\\0.85 1\\0.95 1.5\\1.05 2\\1.15 2.5\\1.22 3\\1.28 3.5\\1.33 5\\1.37 6.5\\1.41 7.5\\1.45 9\\1.48 12\\1.51 13.5\\1.54 15\\1.57 17\\1.59 20\\1.61 23\\1.63 27\\1.65 30\\1.67 33\\1.69 37\\1.71 38.5\\1.73 40\\1.75 41\\1.77 44\\1.79 46\\1.81 48\\1.83 47\\1.85 44\\1.87 45\\1.89 42\\1.91 40\\1.93 37\\1.95 34\\1.97 32\\1.99 28\\2.01 24\\2.03 21\\2.05 17\\2.07 14\\2.09 11\\2.11 9\\2.13 8\\2.15 8.5\\2.17 7\\2.19 5\\2.21 4\\2.24 2.5\\2.28 1.5\\2.32 1\\2.36 0.8\\2.42 0\\};
\end{axis}
\begin{axis}[at={(366pt,44pt)}, anchor=south west, width=180.5pt, height=35.625pt,
 scale only axis, xmode=log, xmin=1, xmax=1000, ymin=0, ymax=50,
 axis line style={line width=0.75pt}, tick align=outside, ytick pos=left, xtick pos=left,
 major tick length=5pt, minor tick length=2.8pt, minor y tick num=9,
 every tick/.style={black, line width=0.8pt},
 yticklabel style={font=\fontsize{12}{12}\selectfont, inner sep=0pt, xshift=-2.5pt},
 after end axis/.code={\yticksdraw\xticksdraw},
 ytick={0,25,50}, yticklabels={0,25,50}, xtick={1,10,100,1000},
 minor xtick={2,3,4,5,6,7,8,9,20,30,40,50,60,70,80,90,200,300,400,500,600,700,800,900},
 xticklabels={10\sx{0},10\sx{1},10\sx{2},10\sx{3}},
 xticklabel style={font=\fontsize{12}{12}\selectfont, inner sep=0pt, yshift=-6pt}]
\addplot[black, line width=0.65pt] table[row sep=\\, x expr={10^(\thisrow{a})}, y=b]{a b\\0 2.5\\0.03 2\\0.06 2.5\\0.09 3\\0.12 4\\0.15 5.5\\0.18 7\\0.21 9\\0.24 11\\0.26 14\\0.28 17\\0.3 21\\0.32 26\\0.34 30\\0.36 34\\0.38 39\\0.4 43\\0.42 46\\0.44 47\\0.46 48.5\\0.48 48\\0.5 46\\0.52 44\\0.54 42\\0.56 39\\0.58 35\\0.6 31\\0.62 27\\0.64 22\\0.66 19\\0.68 17\\0.7 15\\0.72 13\\0.74 10\\0.76 8\\0.78 6\\0.8 5\\0.83 4\\0.86 3\\0.9 2\\0.95 1.2\\1.0 0.8\\1.05 0.5\\1.15 0.3\\1.3 0.5\\1.4 0\\1.6 0.3\\1.8 0\\};
\end{axis}

% ================= Text (coordinates in image px) =================
\begin{scope}[x=0.5pt,y=0.5pt]
\node[anchor=base, font=\fPanel] at (48.5,821) {A};
\node[anchor=base, font=\fPanel] at (614,821) {B};
\node[anchor=base, font=\fPanel] at (51,373) {C};
\node[anchor=base, font=\fPanel] at (616,373) {D};

\node[anchor=base, font=\fRow] at (59,752) {ONAP};
\node[anchor=base, font=\fRow] at (60,674) {SNAP};
\node[anchor=base, font=\fRow] at (53,596) {vehicle};
\node[anchor=base, font=\fRow] at (58,523) {IC};

\node[anchor=base, font=\fRow] at (634,756) {ONAP};
\node[anchor=base, font=\fRow] at (634.5,682) {SNAP};
\node[anchor=base, font=\fRow] at (628.5,606) {vehicle};
\node[anchor=base, font=\fRow] at (643,548) {anti};
\node[anchor=base, font=\fRow] at (643,521) {E-sel};

\node[anchor=base, font=\fRow] at (57,333) {ONAP};
\node[anchor=base, font=\fRow] at (57,264) {SNAP};
\node[anchor=base, font=\fRow] at (55,194) {vehicle};
\node[anchor=base, font=\fRow] at (71.5,133) {anti};
\node[anchor=base, font=\fRow] at (71.5,106) {L-sel};

\node[anchor=base, font=\fRow] at (636,333) {ONAP};
\node[anchor=base, font=\fRow] at (636,263) {SNAP};
\node[anchor=base, font=\fRow] at (632,193) {vehicle};
\node[anchor=base, font=\fRow] at (652.6,121) {anti};
\node[anchor=base, font=\fRow] at (653,94) {P-sel};

\node[anchor=base, font=\fAnn] at (215,777) {57.8±10.2};
\node[anchor=base, font=\fStar] at (297,777) {*};
\node[anchor=base, font=\fAnn] at (412,704) {11.3±1.8};
\node[anchor=base, font=\fStar] at (491,704) {*};
\node[anchor=base, font=\fAnn] at (208,624) {93.6±6.8};
\node[anchor=base, font=\fAnn] at (408,549) {1.93±0.03};
\node[anchor=base, font=\fStar] at (494,549) {*};

\node[anchor=base, font=\fAnn] at (1024,778) {64.7±39};
\node[anchor=base, font=\fAnn] at (1001,703) {11±1.1};
\node[anchor=base, font=\fStar] at (1075,703) {*};
\node[anchor=base, font=\fAnn] at (775,627) {133±31};
\node[anchor=base, font=\fAnn] at (1010,550) {6.6±1.3};
\node[anchor=base, font=\fStar] at (1075,550) {*};

\node[anchor=base, font=\fAnn] at (210,347) {83.1±16.6};
\node[anchor=base, font=\fAnn] at (210,273) {64.5±17.2};
\node[anchor=base, font=\fStar] at (293,273) {*};
\node[anchor=base, font=\fAnn] at (217,198) {109.8±15.7};
\node[anchor=base, font=\fAnn] at (424.5,133) {3.7±0.3};
\node[anchor=base, font=\fStar] at (491,133) {*};

\node[anchor=base, font=\fAnn] at (791,345) {106.2±8.2};
\node[anchor=base, font=\fAnn] at (781,275) {85.8±23};
\node[anchor=base, font=\fAnn] at (791,201) {82.8±45.7};
\node[anchor=base, font=\fAnn] at (1001,130) {7.2±4.9};
\node[anchor=base, font=\fStar] at (1073,130) {*};

\node[anchor=base, font=\fTitle] at (326,428) {CLA (fluorescence)};
\node[anchor=base, font=\fTitle] at (901,428) {E-sel IgG Binding (fluorescence)};
\node[anchor=base, font=\fTitle] at (317,11) {L-sel IgG Binding (fluorescence)};
\node[anchor=base, font=\fTitle] at (903,11) {P-sel IgG Binding (fluorescence)};
\end{scope}
\end{tikzpicture}
\end{document}
